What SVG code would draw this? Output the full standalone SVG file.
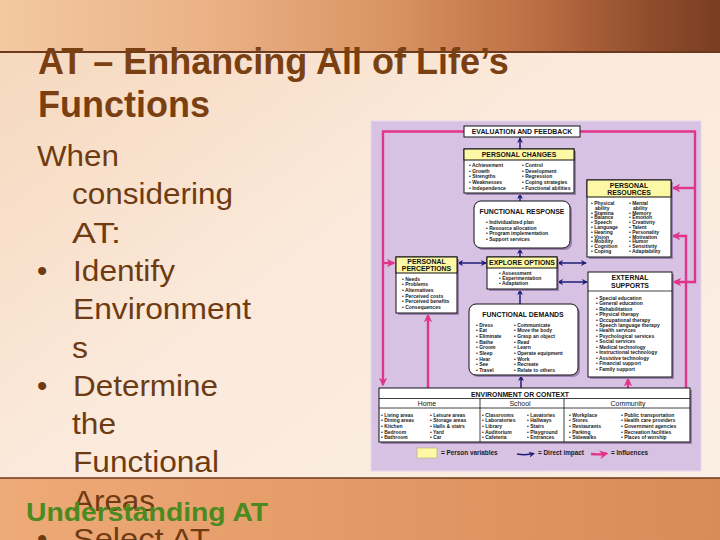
<svg xmlns="http://www.w3.org/2000/svg" width="720" height="540" viewBox="0 0 720 540">
<defs>
<linearGradient id="topg" x1="0" y1="0" x2="1" y2="0">
<stop offset="0" stop-color="#f3c9a2"/><stop offset="0.3" stop-color="#eab184"/><stop offset="0.55" stop-color="#d89262"/><stop offset="0.75" stop-color="#bb6d42"/><stop offset="0.9" stop-color="#904d2d"/><stop offset="1" stop-color="#7a3d22"/>
</linearGradient>
<linearGradient id="bodyg" x1="0" y1="0" x2="1" y2="1">
<stop offset="0" stop-color="#f5d6ba"/><stop offset="0.45" stop-color="#fbeadc"/><stop offset="1" stop-color="#fbefe5"/>
</linearGradient>
<linearGradient id="botg" x1="0" y1="0" x2="1" y2="0">
<stop offset="0" stop-color="#eeaa78"/><stop offset="0.5" stop-color="#e39a66"/><stop offset="1" stop-color="#d98b58"/>
</linearGradient>
<marker id="na" viewBox="0 0 10 10" refX="8.5" refY="5" markerWidth="4" markerHeight="4" orient="auto-start-reverse"><path d="M0,0 L10,5 L0,10 L3,5 z" fill="#1e1e78"/></marker>
<marker id="pa" viewBox="0 0 10 10" refX="8.5" refY="5" markerWidth="3.6" markerHeight="3.6" orient="auto-start-reverse"><path d="M0,0 L10,5 L0,10 L3,5 z" fill="#e0358a"/></marker>
<style>
.tt{font-family:"Liberation Sans",Arial,sans-serif;font-weight:bold;font-size:36px;fill:#7a4012}
.bd{font-family:"Liberation Sans",Arial,sans-serif;font-size:29.5px;fill:#6e3b12}
.ft{font-family:"Liberation Sans",Arial,sans-serif;font-weight:bold;font-size:25px;fill:#4b8a1f}
.box{fill:#fff;stroke:#111;stroke-width:1}
.yel{fill:#fdf8a6;stroke:#111;stroke-width:1}
.sh{fill:#9f82b3}
.h{font-family:"Liberation Sans",Arial,sans-serif;font-weight:bold;font-size:6.9px;fill:#111;text-anchor:middle}
.c{font-family:"Liberation Sans",Arial,sans-serif;font-size:6.9px;fill:#111;text-anchor:middle}
.i{font-family:"Liberation Sans",Arial,sans-serif;font-weight:bold;font-size:5px;fill:#1a1a1a}
.lg{font-family:"Liberation Sans",Arial,sans-serif;font-weight:bold;font-size:6.4px;fill:#1a1a1a}
.nv{fill:none;stroke:#1e1e78;stroke-width:1.5}
.pk{fill:none;stroke:#e0358a;stroke-width:2.4}
</style>
</defs>

<g id="slide-bg">
<rect x="0" y="0" width="720" height="540" fill="url(#bodyg)"/>
<rect x="0" y="0" width="720" height="52" fill="url(#topg)"/>
<line x1="0" y1="52" x2="720" y2="52" stroke="#6b3a1e" stroke-width="2"/>
<rect x="0" y="478" width="720" height="62" fill="url(#botg)"/>
<line x1="0" y1="478" x2="720" y2="478" stroke="#6b3a1e" stroke-width="1.5"/>
</g>

<g id="title">
<text class="tt" x="38" y="74">AT – Enhancing All of Life’s</text>
<text class="tt" x="38" y="117">Functions</text>
</g>

<g id="body-text">
<text class="bd" x="37" y="166" textLength="82" lengthAdjust="spacingAndGlyphs">When</text>
<text class="bd" x="72" y="204.3" textLength="161" lengthAdjust="spacingAndGlyphs">considering</text>
<text class="bd" x="72" y="242.6" textLength="49" lengthAdjust="spacingAndGlyphs">AT:</text>
<text class="bd" x="37" y="280.9">•</text>
<text class="bd" x="73" y="280.9" textLength="102" lengthAdjust="spacingAndGlyphs">Identify</text>
<text class="bd" x="73" y="319.2" textLength="178" lengthAdjust="spacingAndGlyphs">Environment</text>
<text class="bd" x="72" y="357.5" textLength="16" lengthAdjust="spacingAndGlyphs">s</text>
<text class="bd" x="37" y="395.8">•</text>
<text class="bd" x="73" y="395.8" textLength="145" lengthAdjust="spacingAndGlyphs">Determine</text>
<text class="bd" x="72" y="434.1" textLength="44" lengthAdjust="spacingAndGlyphs">the</text>
<text class="bd" x="73" y="472.4" textLength="146" lengthAdjust="spacingAndGlyphs">Functional</text>
<text class="bd" x="73" y="510.7" textLength="82" lengthAdjust="spacingAndGlyphs">Areas</text>
<text class="bd" x="37" y="549">•</text>
<text class="bd" x="73" y="549" textLength="137" lengthAdjust="spacingAndGlyphs">Select AT</text>
</g>

<g id="footer">
<text class="ft" x="26" y="521" textLength="242" lengthAdjust="spacingAndGlyphs">Understanding AT</text>
</g>

<g id="diagram">
<rect x="371" y="121" width="330" height="350" fill="#d8c2e4" stroke="#e6d9ee" stroke-width="1"/>

<g id="connectors">
<path class="pk" d="M464,131.5 H383 V385" marker-end="url(#pa)"/>
<path class="pk" d="M580,131.5 H695 V282 H674" marker-end="url(#pa)"/>
<path class="pk" d="M695,188 H673" marker-end="url(#pa)"/>
<path class="pk" d="M686,388 V236 H673" marker-end="url(#pa)"/>
<path class="pk" d="M383,263 H394" marker-end="url(#pa)"/>
<path class="pk" d="M428,388 V315" marker-end="url(#pa)"/>
<path class="pk" d="M628,388 V379" marker-end="url(#pa)"/>
<path class="nv" d="M520,149 V138" marker-end="url(#na)"/>
<path class="nv" d="M520,201 V194" marker-end="url(#na)"/>
<path class="nv" d="M520,257 V249" marker-end="url(#na)"/>
<path class="nv" d="M520,304 V290" marker-end="url(#na)"/>
<path class="nv" d="M521,388 V376" marker-end="url(#na)"/>
<path class="nv" d="M458,263 H486" marker-start="url(#na)" marker-end="url(#na)"/>
<path class="nv" d="M558,263 H586" marker-start="url(#na)" marker-end="url(#na)"/>
<path class="nv" d="M558,282 H587" marker-start="url(#na)" marker-end="url(#na)"/>
</g>

<g id="evaluation-feedback">
<rect class="box" x="464" y="126" width="116" height="11"/>
<text class="h" x="522" y="134" font-size="6.8">EVALUATION AND FEEDBACK</text>
</g>

<g id="personal-changes">
<rect class="sh" x="466" y="151" width="110" height="44"/>
<rect class="box" x="464" y="149" width="110" height="44"/>
<rect class="yel" x="464" y="149" width="110" height="11"/>
<text class="h" x="519" y="157.3">PERSONAL CHANGES</text>
<text class="i" x="469" y="166.8">• Achievement</text>
<text class="i" x="469" y="172.5">• Growth</text>
<text class="i" x="469" y="178.2">• Strengths</text>
<text class="i" x="469" y="183.9">• Weaknesses</text>
<text class="i" x="469" y="189.6">• Independence</text>
<text class="i" x="522" y="166.8">• Control</text>
<text class="i" x="522" y="172.5">• Development</text>
<text class="i" x="522" y="178.2">• Regression</text>
<text class="i" x="522" y="183.9">• Coping strategies</text>
<text class="i" x="522" y="189.6">• Functional abilities</text>
</g>

<g id="functional-response">
<rect class="sh" x="476" y="203" width="96" height="47" rx="7"/>
<rect class="box" x="474" y="201" width="96" height="47" rx="7"/>
<text class="h" x="522" y="214.3" font-size="6.7">FUNCTIONAL RESPONSE</text>
<text class="i" x="486" y="223.8">• Individualized plan</text>
<text class="i" x="486" y="229.5">• Resource allocation</text>
<text class="i" x="486" y="235.1">• Program implementation</text>
<text class="i" x="486" y="240.8">• Support services</text>
</g>

<g id="personal-resources">
<rect class="sh" x="589" y="182" width="84" height="77"/>
<rect class="box" x="587" y="180" width="84" height="77"/>
<rect class="yel" x="587" y="180" width="84" height="17"/>
<text class="h" x="629" y="187.5">PERSONAL</text>
<text class="h" x="629" y="195.3">RESOURCES</text>
<text class="i" x="591" y="205">• Physical</text>
<text class="i" x="595" y="209.8">ability</text>
<text class="i" x="591" y="214.6">• Stamina</text>
<text class="i" x="591" y="219.4">• Balance</text>
<text class="i" x="591" y="224.2">• Speech</text>
<text class="i" x="591" y="229">• Language</text>
<text class="i" x="591" y="233.8">• Hearing</text>
<text class="i" x="591" y="238.6">• Vision</text>
<text class="i" x="591" y="243.4">• Mobility</text>
<text class="i" x="591" y="248.2">• Cognition</text>
<text class="i" x="591" y="253">• Coping</text>
<text class="i" x="629" y="205">• Mental</text>
<text class="i" x="633" y="209.8">ability</text>
<text class="i" x="629" y="214.6">• Memory</text>
<text class="i" x="629" y="219.4">• Emotion</text>
<text class="i" x="629" y="224.2">• Creativity</text>
<text class="i" x="629" y="229">• Talent</text>
<text class="i" x="629" y="233.8">• Personality</text>
<text class="i" x="629" y="238.6">• Motivation</text>
<text class="i" x="629" y="243.4">• Humor</text>
<text class="i" x="629" y="248.2">• Sensitivity</text>
<text class="i" x="629" y="253">• Adaptability</text>
</g>

<g id="personal-perceptions">
<rect class="sh" x="398" y="259" width="61" height="56"/>
<rect class="box" x="396" y="257" width="61" height="56"/>
<rect class="yel" x="396" y="257" width="61" height="16"/>
<text class="h" x="426.5" y="263.8">PERSONAL</text>
<text class="h" x="426.5" y="271">PERCEPTIONS</text>
<text class="i" x="402" y="280.7">• Needs</text>
<text class="i" x="402" y="286.3">• Problems</text>
<text class="i" x="402" y="291.9">• Alternatives</text>
<text class="i" x="402" y="297.5">• Perceived costs</text>
<text class="i" x="402" y="303.1">• Perceived benefits</text>
<text class="i" x="402" y="308.7">• Consequences</text>
</g>

<g id="explore-options">
<rect class="sh" x="489" y="259" width="70" height="32"/>
<rect class="box" x="487" y="257" width="70" height="32"/>
<rect class="yel" x="487" y="257" width="70" height="11"/>
<text class="h" x="522" y="265.3" font-size="6.6">EXPLORE OPTIONS</text>
<text class="i" x="499" y="274.7">• Assessment</text>
<text class="i" x="499" y="280">• Experimentation</text>
<text class="i" x="499" y="285.4">• Adaptation</text>
</g>

<g id="functional-demands">
<rect class="sh" x="471" y="306" width="109" height="71" rx="7"/>
<rect class="box" x="469" y="304" width="109" height="71" rx="7"/>
<text class="h" x="523" y="316.5" font-size="7.3">FUNCTIONAL DEMANDS</text>
<text class="i" x="476" y="326.7">• Dress</text>
<text class="i" x="476" y="332.3">• Eat</text>
<text class="i" x="476" y="338">• Eliminate</text>
<text class="i" x="476" y="343.6">• Bathe</text>
<text class="i" x="476" y="349.3">• Groom</text>
<text class="i" x="476" y="354.9">• Sleep</text>
<text class="i" x="476" y="360.6">• Hear</text>
<text class="i" x="476" y="366.2">• See</text>
<text class="i" x="476" y="371.9">• Travel</text>
<text class="i" x="514" y="326.7">• Communicate</text>
<text class="i" x="514" y="332.3">• Move the body</text>
<text class="i" x="514" y="338">• Grasp an object</text>
<text class="i" x="514" y="343.6">• Read</text>
<text class="i" x="514" y="349.3">• Learn</text>
<text class="i" x="514" y="354.9">• Operate equipment</text>
<text class="i" x="514" y="360.6">• Work</text>
<text class="i" x="514" y="366.2">• Recreate</text>
<text class="i" x="514" y="371.9">• Relate to others</text>
</g>

<g id="external-supports">
<rect class="sh" x="590" y="274" width="84" height="105"/>
<rect class="box" x="588" y="272" width="84" height="105"/>
<line x1="588" y1="291" x2="672" y2="291" stroke="#111" stroke-width="0.8"/>
<text class="h" x="630" y="279.5">EXTERNAL</text>
<text class="h" x="630" y="287.5">SUPPORTS</text>
<text class="i" x="596" y="299.7">• Special education</text>
<text class="i" x="596" y="305.1">• General education</text>
<text class="i" x="596" y="310.6">• Rehabilitation</text>
<text class="i" x="596" y="316">• Physical therapy</text>
<text class="i" x="596" y="321.5">• Occupational therapy</text>
<text class="i" x="596" y="327">• Speech language therapy</text>
<text class="i" x="596" y="332.4">• Health services</text>
<text class="i" x="596" y="337.9">• Psychological services</text>
<text class="i" x="596" y="343.3">• Social services</text>
<text class="i" x="596" y="348.8">• Medical technology</text>
<text class="i" x="596" y="354.2">• Instructional technology</text>
<text class="i" x="596" y="359.7">• Assistive technology</text>
<text class="i" x="596" y="365.1">• Financial support</text>
<text class="i" x="596" y="370.6">• Family support</text>
</g>

<g id="environment-context">
<rect class="sh" x="381" y="390" width="311" height="54"/>
<rect class="box" x="379" y="388" width="311" height="54"/>
<line x1="379" y1="398.5" x2="690" y2="398.5" stroke="#111" stroke-width="0.8"/>
<line x1="379" y1="408" x2="690" y2="408" stroke="#111" stroke-width="0.8"/>
<line x1="480" y1="398.5" x2="480" y2="442" stroke="#111" stroke-width="0.8"/>
<line x1="564" y1="398.5" x2="564" y2="442" stroke="#111" stroke-width="0.8"/>
<text class="h" x="520" y="396.5">ENVIRONMENT OR CONTEXT</text>
<text class="c" x="427" y="406">Home</text>
<text class="c" x="520" y="406">School</text>
<text class="c" x="628" y="406">Community</text>
<text class="i" x="381" y="416.7">• Living areas</text>
<text class="i" x="381" y="422.3">• Dining areas</text>
<text class="i" x="381" y="428">• Kitchen</text>
<text class="i" x="381" y="433.6">• Bedroom</text>
<text class="i" x="381" y="439.3">• Bathroom</text>
<text class="i" x="430" y="416.7">• Leisure areas</text>
<text class="i" x="430" y="422.3">• Storage areas</text>
<text class="i" x="430" y="428">• Halls &amp; stairs</text>
<text class="i" x="430" y="433.6">• Yard</text>
<text class="i" x="430" y="439.3">• Car</text>
<text class="i" x="482" y="416.7">• Classrooms</text>
<text class="i" x="482" y="422.3">• Laboratories</text>
<text class="i" x="482" y="428">• Library</text>
<text class="i" x="482" y="433.6">• Auditorium</text>
<text class="i" x="482" y="439.3">• Cafeteria</text>
<text class="i" x="527" y="416.7">• Lavatories</text>
<text class="i" x="527" y="422.3">• Hallways</text>
<text class="i" x="527" y="428">• Stairs</text>
<text class="i" x="527" y="433.6">• Playground</text>
<text class="i" x="527" y="439.3">• Entrances</text>
<text class="i" x="569" y="416.7">• Workplace</text>
<text class="i" x="569" y="422.3">• Stores</text>
<text class="i" x="569" y="428">• Restaurants</text>
<text class="i" x="569" y="433.6">• Parking</text>
<text class="i" x="569" y="439.3">• Sidewalks</text>
<text class="i" x="621" y="416.7">• Public transportation</text>
<text class="i" x="621" y="422.3">• Health care providers</text>
<text class="i" x="621" y="428">• Government agencies</text>
<text class="i" x="621" y="433.6">• Recreation facilities</text>
<text class="i" x="621" y="439.3">• Places of worship</text>
</g>

<g id="legend">
<rect x="417" y="448" width="20" height="10" fill="#fdf8a6" stroke="#b8a86a" stroke-width="0.6"/>
<text class="lg" x="441" y="455.3">= Person variables</text>
<path class="nv" d="M517,454 Q526,455.5 534,453.5" marker-end="url(#na)"/>
<text class="lg" x="538" y="455.3">= Direct impact</text>
<path class="pk" d="M591,454 Q599,455 607,453.5" marker-end="url(#pa)"/>
<text class="lg" x="611" y="455.3">= Influences</text>
</g>
</g>
</svg>
